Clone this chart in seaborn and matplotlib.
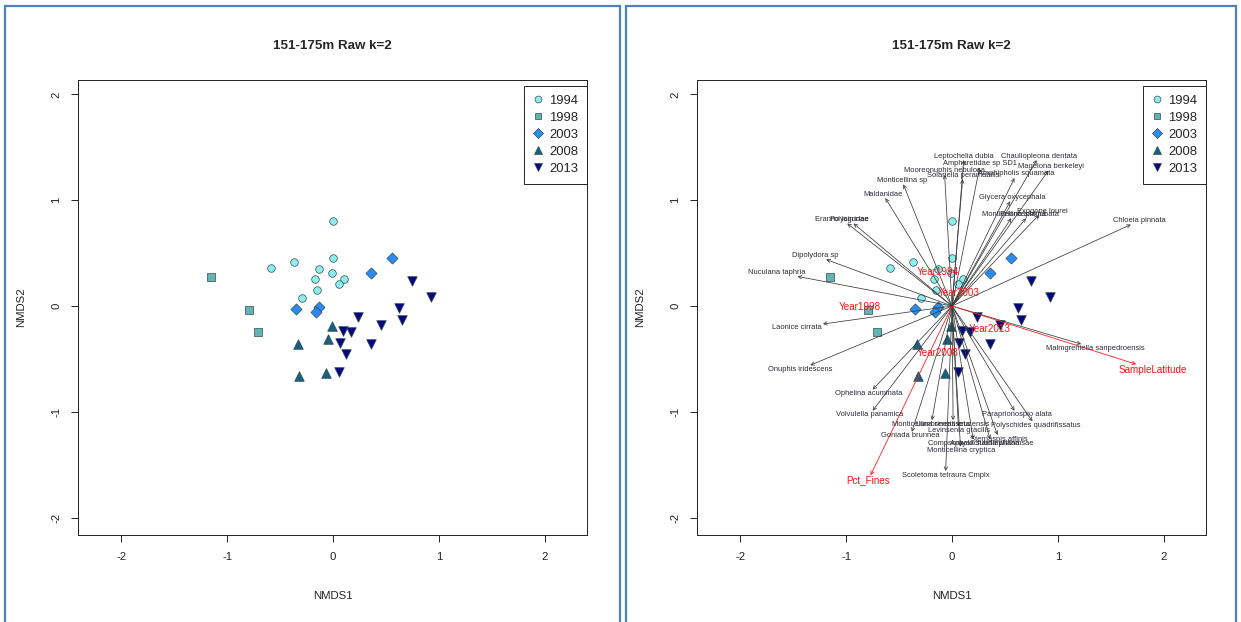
import numpy as np
import pandas as pd
import matplotlib
matplotlib.use('Agg')
import matplotlib.pyplot as plt
from matplotlib.patches import Rectangle
from matplotlib.lines import Line2D
import seaborn as sns

sns.set_style('ticks')
plt.rcParams['font.family'] = ['Liberation Sans', 'DejaVu Sans']
plt.rcParams['axes.unicode_minus'] = False

# site scores (NMDS1, NMDS2) per year
years = ['1994', '1998', '2003', '2008', '2013']
x1994 = [0.00, -0.37, -0.59, 0.00, -0.13, -0.01, -0.17, 0.10, 0.06, -0.15, -0.29]
y1994 = [0.80, 0.42, 0.36, 0.45, 0.35, 0.31, 0.26, 0.26, 0.21, 0.15, 0.08]
x1998 = [-1.15, -0.79, -0.71]
y1998 = [0.27, -0.04, -0.25]
x2003 = [0.56, 0.36, -0.35, -0.13, -0.16]
y2003 = [0.45, 0.31, -0.03, -0.01, -0.06]
x2008 = [-0.01, -0.05, -0.33, -0.32, -0.07]
y2008 = [-0.19, -0.31, -0.36, -0.66, -0.63]
x2013 = [0.75, 0.93, 0.62, 0.65, 0.24, 0.45, 0.09, 0.17, 0.07, 0.36, 0.12, 0.06]
y2013 = [0.24, 0.09, -0.02, -0.13, -0.10, -0.18, -0.24, -0.25, -0.35, -0.36, -0.45, -0.62]

# species vectors
sp_names = ['Leptochelia dubia', 'Chauliopleona dentata', 'Ampharetidae sp SD1',
            'Mooreonuphis nebulosa', 'Solariella peramabilis', 'Magelona berkeleyi',
            'Amphipholis squamata', 'Glycera oxycephala', 'Exogone lourei',
            'Monticellina siblina', 'Prionospio jubata', 'Chloeia pinnata',
            'Monticellina sp', 'Maldanidae', 'Eranno lagunae', 'Polycirridae',
            'Dipolydora sp', 'Nuculana taphria', 'Laonice cirrata', 'Onuphis iridescens',
            'Malmgreniella sanpedroensis', 'Ophelina acuminata', 'Volvulella panamica',
            'Paraprionospio alata', 'Polyschides quadrifissatus', 'Monticellina serratiseta',
            'Lumbrineris cruzensis', 'Goniada brunnea', 'Levinsenia gracilis',
            'Sternaspis affinis', 'Compsomyax subdiaphana', 'Aphelochaeta williamsae',
            'Monticellina cryptica', 'Scoletoma tetraura Cmplx']
sp_x = [0.11, 0.80, 0.26, -0.07, 0.10, 0.91, 0.59, 0.55, 0.82, 0.56, 0.70, 1.69,
        -0.46, -0.63, -0.99, -0.93, -1.19, -1.46, -1.22, -1.34, 1.22, -0.75, -0.75,
        0.59, 0.76, -0.19, 0.01, -0.38, 0.06, 0.43, 0.20, 0.36, 0.08, -0.06]
sp_y = [1.38, 1.38, 1.31, 1.24, 1.20, 1.28, 1.21, 0.99, 0.86, 0.83, 0.83, 0.77,
        1.15, 1.02, 0.78, 0.78, 0.44, 0.28, -0.17, -0.56, -0.36, -0.79, -0.99,
        -0.99, -1.09, -1.08, -1.08, -1.19, -1.14, -1.22, -1.26, -1.26, -1.33, -1.56]

# environmental vectors
env_names = ['SampleLatitude', 'Pct_Fines']
env_x = [1.74, -0.77]
env_y = [-0.55, -1.60]

# year centroids
cen_names = ['Year1994', 'Year1998', 'Year2003', 'Year2008', 'Year2013']
cen_x = [-0.13, -0.87, 0.06, -0.14, 0.36]
cen_y = [0.32, -0.01, 0.12, -0.44, -0.22]

df = pd.DataFrame({
    'NMDS1': x1994 + x1998 + x2003 + x2008 + x2013,
    'NMDS2': y1994 + y1998 + y2003 + y2008 + y2013,
    'year': ['1994'] * len(x1994) + ['1998'] * len(x1998) + ['2003'] * len(x2003)
            + ['2008'] * len(x2008) + ['2013'] * len(x2013),
})

pal = {'1994': '#8EEDED', '1998': '#66B3B3', '2003': '#2A8BF0', '2008': '#17607E', '2013': '#06067E'}
mk = {'1994': 'o', '1998': 's', '2003': 'D', '2008': '^', '2013': 'v'}
sizes = {'1994': 30, '1998': 27, '2003': 32, '2008': 48, '2013': 48}
edge = '#2d4d55'

W, H, DPI = 1241, 622, 100
fig = plt.figure(figsize=(W / DPI, H / DPI), dpi=DPI)
ax1 = fig.add_axes([78 / W, (H - 535) / H, 509 / W, 455 / H])
ax2 = fig.add_axes([697 / W, (H - 535) / H, 509 / W, 455 / H])

# blue panel frames
for x0, x1 in [(5, 620), (626, 1236)]:
    fig.add_artist(Rectangle((x0 / W, -0.05), (x1 - x0) / W, (H - 6) / H + 0.05,
                             transform=fig.transFigure, fill=False,
                             edgecolor='#4F81BD', lw=1.6))

for ax in (ax1, ax2):
    for yr in years:
        sub = df[df['year'] == yr]
        sns.scatterplot(data=sub, x='NMDS1', y='NMDS2', color=pal[yr], marker=mk[yr],
                        s=sizes[yr], edgecolor=edge, linewidth=0.5, ax=ax, legend=False,
                        zorder=3)
    ax.set_xlim(-2.41, 2.40)
    ax.set_ylim(-2.165, 2.137)
    ax.set_xticks([-2, -1, 0, 1, 2])
    ax.set_yticks([-2, -1, 0, 1, 2])
    ax.tick_params(direction='out', length=5, width=0.7, pad=7, labelsize=8.2, colors='#222222')
    ax.tick_params(axis='y', labelrotation=90)
    for lbl in ax.get_yticklabels():
        lbl.set_va('center')
    for sp in ax.spines.values():
        sp.set_visible(True)
        sp.set_linewidth(0.7)
        sp.set_color('#222222')
    ax.set_xlabel('NMDS1', fontsize=8.2, labelpad=21, color='#222222')
    ax.set_ylabel('NMDS2', fontsize=8.2, labelpad=18, color='#222222')
    ax.set_title('151-175m Raw k=2', fontsize=9.6, fontweight='bold', pad=22)

    handles = [Line2D([], [], linestyle='', marker=mk[yr], markerfacecolor=pal[yr],
                      markeredgecolor=edge, markeredgewidth=0.5,
                      markersize=np.sqrt(sizes[yr]) * 0.9, label=yr) for yr in years]
    leg = ax.legend(handles=handles, loc='upper right', bbox_to_anchor=(1.0, 1 - 6 / 455),
                    borderaxespad=0, fontsize=9.4, frameon=True, fancybox=False,
                    framealpha=1, edgecolor='#222222', handlelength=0.8,
                    handletextpad=0.5, labelspacing=0.38, borderpad=0.65)
    leg.get_frame().set_linewidth(0.7)


def text_offset(tx, ty, w, h):
    # centre of the label on the continuation of the arrow (vegan style)
    offx = np.sign(tx) * (w / 2 + h / 4)
    offy = 0.75 * h * np.sign(ty)
    b = ty / tx if tx != 0 else np.inf
    move = offy / b if (np.isfinite(b) and b != 0) else np.inf
    if np.isfinite(move) and abs(move) <= abs(offx):
        offx = move
    else:
        offy = b * offx
    return offx, offy


fig.canvas.draw()
rend = fig.canvas.get_renderer()
origin = ax2.transData.transform((0, 0))


def vectors(names, xs, ys, col, lcol, fs, lw):
    for name, x, y in zip(names, xs, ys):
        ax2.annotate('', xy=(x, y), xytext=(0, 0),
                     arrowprops=dict(arrowstyle='->', color=col, lw=lw, shrinkA=0, shrinkB=0,
                                     mutation_scale=6), zorder=4)
        t = ax2.annotate(name, xy=(x, y), xytext=(0, 0), textcoords='offset points',
                         ha='center', va='center', fontsize=fs, color=lcol, zorder=5)
        bb = t.get_window_extent(rend)
        tip = ax2.transData.transform((x, y)) - origin
        dx, dy = text_offset(tip[0], tip[1], bb.width, fs * DPI / 72 * 0.72)
        t.xyann = (dx * 72 / DPI, dy * 72 / DPI)


vectors(sp_names, sp_x, sp_y, '#3a3a3a', '#2a2a35', 5.4, 0.55)
vectors(env_names, env_x, env_y, '#FF2020', '#FF1010', 7.1, 0.6)

for name, x, y in zip(cen_names, cen_x, cen_y):
    ax2.text(x, y, name, ha='center', va='center', fontsize=7.1, color='#FF1010', zorder=6)

fig.savefig('out.png', dpi=DPI, facecolor='white')
